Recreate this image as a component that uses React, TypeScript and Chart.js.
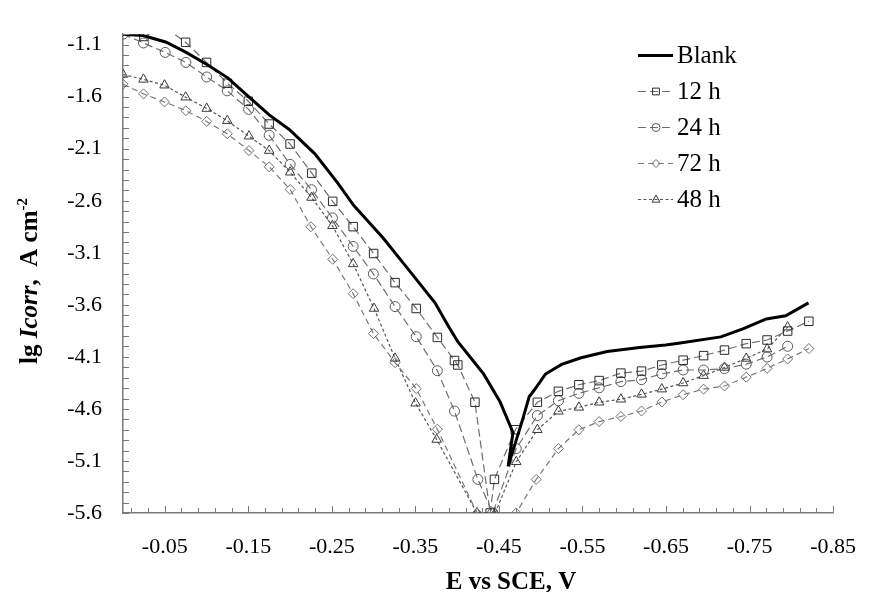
import React, { useEffect, useRef } from 'react';
import { Chart, registerables } from 'chart.js';

Chart.register(...registerables);

const FONT = '"Liberation Serif", "Times New Roman", serif';
const AXIS = '#7a7a7a';

// ---- data (E vs SCE, V ; lg Icorr) ----
const blankE = [0, -0.024, -0.051, -0.074, -0.101, -0.125, -0.151, -0.175, -0.199, -0.2297, -0.2569, -0.2763, -0.3114, -0.3425, -0.3735, -0.389, -0.4008, -0.4241, -0.4318, -0.4513, -0.4668, -0.461, -0.4784, -0.4862, -0.4921, -0.5057, -0.5251, -0.5484, -0.5795, -0.6184, -0.6495, -0.6650, -0.7156, -0.7428, -0.77, -0.7933, -0.8206];
const blankI = [-1.0, -1.013, -1.075, -1.168, -1.293, -1.417, -1.604, -1.775, -1.915, -2.149, -2.429, -2.647, -2.958, -3.269, -3.581, -3.798, -3.954, -4.188, -4.266, -4.53, -4.826, -5.152, -4.701, -4.483, -4.421, -4.265, -4.172, -4.109, -4.048, -4.01, -3.985, -3.969, -3.908, -3.829, -3.736, -3.705, -3.581];

const h12E = [-0.025, -0.05, -0.075, -0.100, -0.125, -0.150, -0.175, -0.200, -0.226, -0.251, -0.2755, -0.300, -0.3257, -0.351, -0.3763, -0.3968, -0.4008, -0.4213, -0.4395, -0.4446, -0.4696, -0.496, -0.5212, -0.5457, -0.570, -0.596, -0.6207, -0.645, -0.6705, -0.695, -0.720, -0.746, -0.771, -0.7956, -0.821];
const h12I = [-1.022, -0.93, -1.078, -1.271, -1.471, -1.644, -1.863, -2.055, -2.335, -2.606, -2.849, -3.107, -3.387, -3.635, -3.913, -4.135, -4.178, -4.536, -5.6, -5.277, -4.800, -4.536, -4.431, -4.368, -4.328, -4.256, -4.237, -4.178, -4.132, -4.088, -4.035, -3.973, -3.938, -3.852, -3.758];

const h24E = [0, -0.0245, -0.0505, -0.0753, -0.1002, -0.1248, -0.1504, -0.175, -0.2001, -0.2257, -0.2507, -0.2755, -0.2997, -0.3257, -0.351, -0.3763, -0.3968, -0.4248, -0.4425, -0.4707, -0.496, -0.5212, -0.5457, -0.570, -0.596, -0.6207, -0.645, -0.6705, -0.695, -0.720, -0.746, -0.771, -0.7956];
const h24I = [-1.0, -1.084, -1.175, -1.271, -1.411, -1.544, -1.722, -1.971, -2.251, -2.494, -2.765, -3.039, -3.303, -3.617, -3.906, -4.233, -4.621, -5.277, -5.6, -4.981, -4.664, -4.521, -4.45, -4.397, -4.338, -4.319, -4.263, -4.226, -4.226, -4.213, -4.17, -4.101, -3.998];

const h72E = [0, -0.0245, -0.0497, -0.0753, -0.1002, -0.1248, -0.1508, -0.175, -0.2001, -0.2249, -0.251, -0.2755, -0.2997, -0.3257, -0.351, -0.3763, -0.4237, -0.4707, -0.4946, -0.5212, -0.5457, -0.570, -0.596, -0.6207, -0.645, -0.6705, -0.695, -0.720, -0.746, -0.771, -0.7956, -0.821];
const h72I = [-1.48, -1.573, -1.651, -1.735, -1.838, -1.957, -2.118, -2.274, -2.492, -2.85, -3.162, -3.493, -3.876, -4.156, -4.405, -4.795, -5.6, -5.6, -5.277, -4.981, -4.80, -4.722, -4.673, -4.62, -4.533, -4.464, -4.41, -4.38, -4.295, -4.21, -4.12, -4.02];

const h48E = [0, -0.0245, -0.0497, -0.075, -0.1002, -0.1248, -0.1508, -0.175, -0.2001, -0.2257, -0.2507, -0.2755, -0.3005, -0.3257, -0.3502, -0.3755, -0.4237, -0.4455, -0.4707, -0.496, -0.5212, -0.5457, -0.570, -0.596, -0.6207, -0.645, -0.6705, -0.695, -0.720, -0.746, -0.771, -0.7956];
const h48I = [-1.387, -1.434, -1.490, -1.605, -1.714, -1.831, -1.98, -2.118, -2.326, -2.569, -2.84, -3.207, -3.635, -4.114, -4.545, -4.894, -5.6, -5.6, -5.108, -4.80, -4.623, -4.585, -4.536, -4.507, -4.46, -4.41, -4.351, -4.28, -4.202, -4.115, -4.025, -3.814];

const seriesLabels = ['Blank', '12 h', '24 h', '72 h', '48 h'];
const xTickLabels = ['-0.05', '-0.15', '-0.25', '-0.35', '-0.45', '-0.55', '-0.65', '-0.75', '-0.85'];
const yTickLabels = ['-1.1', '-1.6', '-2.1', '-2.6', '-3.1', '-3.6', '-4.1', '-4.6', '-5.1', '-5.6'];

type Style = { line: string; width: number; dash: number[]; marker: string | false; mColor: string; radius: number };
const styles: Style[] = [
  { line: '#000000', width: 3, dash: [], marker: false, mColor: '#000', radius: 0 },
  { line: '#6e6e6e', width: 1.2, dash: [8, 4], marker: 'rect', mColor: '#2a2a2a', radius: 6 },
  { line: '#6e6e6e', width: 1.2, dash: [8, 4], marker: 'circle', mColor: '#5a5a5a', radius: 5 },
  { line: '#7a7a7a', width: 1.2, dash: [6, 4], marker: 'rectRot', mColor: '#6e6e6e', radius: 5 },
  { line: '#555555', width: 1.2, dash: [3, 2.5], marker: 'triangle', mColor: '#3a3a3a', radius: 5.5 },
];

const pairs = (xs: number[], ys: number[]) => xs.map((x, i) => ({ x, y: ys[i] }));

const inwardTicks = {
  id: 'inwardTicks',
  afterDraw(chart: any) {
    const { ctx, chartArea } = chart;
    const xs = chart.scales.x;
    const ys = chart.scales.y;
    ctx.save();
    ctx.strokeStyle = AXIS;
    ctx.lineWidth = 1;
    ctx.beginPath();
    xs.ticks.forEach((t: any) => {
      const px = Math.round(xs.getPixelForValue(t.value)) + 0.5;
      const len = t.label ? 7 : 5;
      ctx.moveTo(px, chartArea.bottom);
      ctx.lineTo(px, chartArea.bottom - len);
    });
    ys.ticks.forEach((t: any) => {
      const py = Math.round(ys.getPixelForValue(t.value)) + 0.5;
      const len = 6;
      ctx.moveTo(chartArea.left, py);
      ctx.lineTo(chartArea.left + len, py);
    });
    ctx.stroke();
    ctx.restore();
  },
};

const titles = {
  id: 'titles',
  afterDraw(chart: any) {
    const { ctx } = chart;
    ctx.save();
    ctx.fillStyle = '#000';
    // x title
    ctx.font = `bold 25px ${FONT}`;
    ctx.textAlign = 'center';
    ctx.textBaseline = 'alphabetic';
    ctx.fillText('E vs SCE, V', 511, 589);
    // y title (mixed fonts)
    const parts = [
      { t: 'lg ', f: `bold 25px ${FONT}`, dy: 0 },
      { t: 'Icorr', f: `italic bold 25px ${FONT}`, dy: 0 },
      { t: ',  A cm', f: `bold 25px ${FONT}`, dy: 0 },
      { t: '-2', f: `bold 15px ${FONT}`, dy: -10 },
    ];
    let total = 0;
    const widths = parts.map((p) => {
      ctx.font = p.f;
      const w = ctx.measureText(p.t).width;
      total += w;
      return w;
    });
    ctx.translate(37, 281);
    ctx.rotate(-Math.PI / 2);
    ctx.textAlign = 'left';
    let cx = -total / 2;
    parts.forEach((p, i) => {
      ctx.font = p.f;
      ctx.fillText(p.t, cx, p.dy);
      cx += widths[i];
    });
    ctx.restore();
  },
};

function drawMarker(ctx: CanvasRenderingContext2D, s: Style, x: number, y: number) {
  if (!s.marker) return;
  ctx.save();
  ctx.setLineDash([]);
  ctx.strokeStyle = s.mColor;
  ctx.lineWidth = 1;
  ctx.beginPath();
  const r = s.radius * 0.8;
  if (s.marker === 'rect') {
    const h = r * Math.SQRT1_2;
    ctx.rect(x - h, y - h, 2 * h, 2 * h);
  } else if (s.marker === 'circle') {
    ctx.arc(x, y, r, 0, Math.PI * 2);
  } else if (s.marker === 'rectRot') {
    ctx.moveTo(x - r, y);
    ctx.lineTo(x, y - r);
    ctx.lineTo(x + r, y);
    ctx.lineTo(x, y + r);
    ctx.closePath();
  } else if (s.marker === 'triangle') {
    ctx.moveTo(x, y - r);
    ctx.lineTo(x + r * 0.9, y + r * 0.6);
    ctx.lineTo(x - r * 0.9, y + r * 0.6);
    ctx.closePath();
  }
  ctx.stroke();
  ctx.restore();
}

const legendPlugin = {
  id: 'customLegend',
  afterDraw(chart: any) {
    const { ctx } = chart;
    ctx.save();
    seriesLabels.forEach((label, i) => {
      const s = styles[i];
      const y = 55 + i * 36;
      ctx.save();
      ctx.strokeStyle = s.line;
      ctx.lineWidth = s.width;
      ctx.setLineDash(s.dash);
      ctx.beginPath();
      ctx.moveTo(638, y + 0.5);
      ctx.lineTo(673, y + 0.5);
      ctx.stroke();
      ctx.restore();
      drawMarker(ctx, s, 656, y + 0.5);
      ctx.fillStyle = '#000';
      ctx.font = `25px ${FONT}`;
      ctx.textAlign = 'left';
      ctx.textBaseline = 'middle';
      ctx.fillText(label, 677, y + 1);
    });
    ctx.restore();
  },
};

export default function App() {
  const ref = useRef<HTMLCanvasElement | null>(null);
  useEffect(() => {
    if (!ref.current) return;
    const seriesData = [
      pairs(blankE, blankI),
      pairs(h12E, h12I),
      pairs(h24E, h24I),
      pairs(h72E, h72I),
      pairs(h48E, h48I),
    ];
    const chart = new Chart(ref.current, {
      type: 'scatter',
      data: {
        datasets: seriesData.map((d, i) => {
          const s = styles[i];
          return {
            label: seriesLabels[i],
            data: d,
            showLine: true,
            borderColor: s.line,
            borderWidth: s.width,
            borderDash: s.dash,
            tension: 0,
            pointStyle: s.marker === false ? 'circle' : (s.marker as any),
            pointRadius: s.radius,
            pointBorderColor: s.mColor,
            pointBackgroundColor: 'rgba(0,0,0,0)',
            pointBorderWidth: 1,
            order: i === 0 ? 0 : 1,
          } as any;
        }),
      },
      options: {
        responsive: false,
        animation: false,
        events: [],
        layout: { padding: { left: 0, right: 25, top: 20, bottom: 0 } },
        plugins: { legend: { display: false }, tooltip: { enabled: false } },
        scales: {
          x: {
            type: 'linear',
            min: -0.85,
            max: 0,
            reverse: true,
            grid: { display: false, drawTicks: false },
            border: { display: true, color: AXIS, width: 1.5 },
            afterBuildTicks: (scale: any) => {
              const t = [];
              for (let k = 1; k <= 85; k += 2) t.push({ value: -k / 100 });
              scale.ticks = t;
            },
            afterFit: (scale: any) => {
              scale.height = 79;
            },
            ticks: {
              autoSkip: false,
              maxRotation: 0,
              padding: 21,
              color: '#000',
              font: { family: FONT, size: 22 },
              callback: (v: any) => {
                const s = Number(v).toFixed(2);
                return xTickLabels.includes(s) ? s : '';
              },
            },
          },
          y: {
            type: 'linear',
            min: -5.6,
            max: -1.0,
            grid: { display: false, drawTicks: false },
            border: { display: true, color: AXIS, width: 1.5 },
            afterBuildTicks: (scale: any) => {
              const t = [];
              for (let k = 56; k >= 10; k--) t.push({ value: -k / 10 });
              scale.ticks = t;
            },
            afterFit: (scale: any) => {
              scale.width = 123;
            },
            ticks: {
              autoSkip: false,
              padding: 21,
              color: '#000',
              font: { family: FONT, size: 22 },
              callback: (v: any) => {
                const s = Number(v).toFixed(1);
                return yTickLabels.includes(s) ? s : '';
              },
            },
          },
        },
      },
      plugins: [inwardTicks, titles, legendPlugin],
    });
    return () => chart.destroy();
  }, []);
  return (
    <div style={{ position: 'fixed', left: 0, top: 0, width: 877, height: 592, background: '#fff' }}>
      <canvas ref={ref} width={877} height={592} style={{ display: 'block' }} />
    </div>
  );
}
